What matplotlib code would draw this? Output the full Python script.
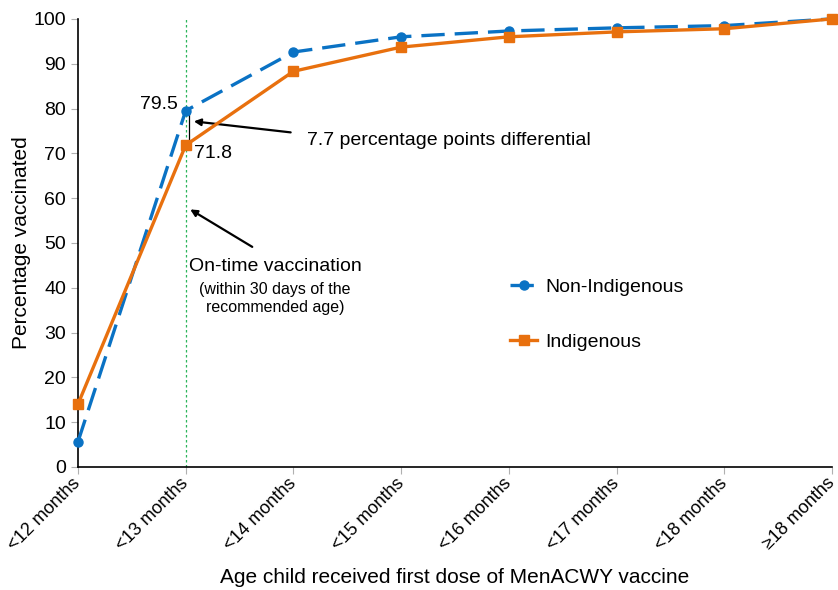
import numpy as np
import matplotlib.pyplot as plt

plt.rcParams['font.family'] = ['Liberation Sans', 'DejaVu Sans']

categories = ['<12 months', '<13 months', '<14 months', '<15 months',
              '<16 months', '<17 months', '<18 months', '\u226518 months']
non_indigenous = [5.6, 79.5, 92.6, 96.0, 97.3, 98.0, 98.5, 100.0]
indigenous = [14.0, 71.8, 88.3, 93.7, 96.0, 97.1, 97.8, 100.0]

blue = '#0a72c4'
orange = '#e8700e'

fig = plt.figure(figsize=(8.38, 5.9), dpi=100)
ax = fig.add_axes([0.093, 0.2085, 0.9, 0.7595])

x = np.arange(len(categories))
ax.plot(x, non_indigenous, color=blue, lw=2.4, dashes=(7, 3), marker='o',
        ms=6.5, label='Non-Indigenous', zorder=3)
ax.plot(x, indigenous, color=orange, lw=2.4, marker='s', ms=6.5,
        label='Indigenous', zorder=4)

# on-time line and differential bar
ax.axvline(1, ymin=0, ymax=1, color='#2bb55a', lw=0.9, ls=(0, (2, 2)), zorder=1)
ax.plot([1.03, 1.03], [non_indigenous[1], indigenous[1]], color='black', lw=0.9, zorder=2)

ax.text(0.93, 81.0, '79.5', ha='right', va='center', fontsize=14)
ax.text(1.08, 70.0, '71.8', ha='left', va='center', fontsize=14)

ax.annotate('', xy=(1.05, 77.2), xytext=(2.0, 74.6),
            arrowprops=dict(arrowstyle='-|>', color='black', lw=1.6, mutation_scale=10))
ax.text(2.13, 72.9, '7.7 percentage points differential', ha='left', va='center', fontsize=14)

ax.annotate('', xy=(1.02, 57.8), xytext=(1.64, 48.8),
            arrowprops=dict(arrowstyle='-|>', color='black', lw=1.6, mutation_scale=10))
ax.text(1.83, 44.8, 'On-time vaccination', ha='center', va='center', fontsize=14)
ax.text(1.83, 37.6, '(within 30 days of the\nrecommended age)', ha='center', va='center',
        fontsize=11.5, linespacing=1.2)

ax.set_xlim(0, 7)
ax.set_ylim(0, 100)
ax.set_yticks(range(0, 101, 10))
ax.set_xticks(x)
ax.set_xticklabels(categories, rotation=45, ha='right', va='center',
                   rotation_mode='anchor', fontsize=13)
ax.tick_params(axis='y', labelsize=14, color='#b0b0b0', length=5)
ax.tick_params(axis='x', color='#b0b0b0', length=5, pad=5)
for s in ['top', 'right']:
    ax.spines[s].set_visible(False)
ax.spines['left'].set_linewidth(1.2)
ax.spines['bottom'].set_linewidth(1.2)
for line in ax.lines:
    line.set_clip_on(False)

ax.set_ylabel('Percentage vaccinated', fontsize=15, labelpad=2)
ax.set_xlabel('Age child received first dose of MenACWY vaccine', fontsize=15, labelpad=10)

ax.legend(loc='center left', bbox_to_anchor=(0.55, 0.34), frameon=False, fontsize=14,
          labelspacing=1.95, handlelength=1.4, handletextpad=0.4)

fig.savefig('out.png', dpi=100)
